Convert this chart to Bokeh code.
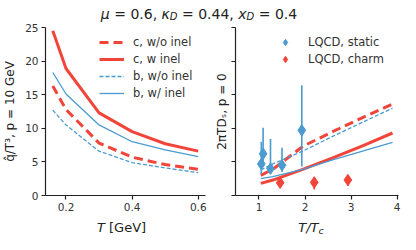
import numpy as np
from bokeh.plotting import figure
from bokeh.layouts import column, row
from bokeh.models import Range1d, FixedTicker, Legend, LegendItem, Label, CustomJSTickFormatter
from bokeh.embed import file_html
from bokeh.resources import INLINE

RED = "#f2453a"
BLUE = "#4a9bd1"
FONT = "DejaVu Sans"
INK = "#222222"
TXT = "#333333"

# ---------------- data ----------------
T = [0.16, 0.2, 0.3, 0.4, 0.5, 0.6]
qhat_c_wo = [16.3, 12.8, 7.8, 5.7, 4.6, 3.9]
qhat_c_w = [24.5, 18.9, 12.3, 9.5, 7.7, 6.6]
qhat_b_wo = [12.7, 10.5, 6.6, 4.9, 4.1, 3.4]
qhat_b_w = [18.3, 15.1, 10.5, 8.0, 6.8, 5.8]

TTc = [1.04, 1.30, 1.95, 2.60, 3.25, 3.90]
Ds_c_wo = [3.0, 3.9, 7.3, 9.5, 11.6, 13.6]
Ds_c_w = [1.8, 2.3, 3.9, 5.6, 7.4, 9.3]
Ds_b_wo = [3.8, 4.7, 6.6, 8.8, 10.9, 13.0]
Ds_b_w = [2.5, 2.8, 3.9, 5.3, 6.6, 7.9]

static_x = [1.05, 1.09, 1.25, 1.5, 1.93]
static_y = [4.7, 6.2, 4.0, 4.5, 9.7]
static_lo = [3.2, 4.6, 3.2, 3.5, 4.3]
static_hi = [8.0, 10.1, 8.4, 7.1, 16.4]

charm_x = [1.46, 2.2, 2.93]
charm_y = [1.9, 1.95, 2.3]
charm_lo = [1.4, 0.9, 1.4]
charm_hi = [2.4, 2.6, 2.9]

left_xticks = [0.2, 0.4, 0.6]
right_xticks = [1, 2, 3, 4]
yticks = [0, 5, 10, 15, 20, 25]

labels_left = ["c, w/o inel", "c, w inel", "b, w/o inel", "b, w/ inel"]
labels_right = ["LQCD, static", "LQCD, charm"]

# ---------------- helpers ----------------
EM = {' ': 0.318, '=': 0.838, '.': 0.318, ',': 0.318, 'μ': 0.636, 'κ': 0.592,
      'x': 0.592, 'D': 0.770, 'T': 0.611, '/': 0.337, 'c': 0.550, '[': 0.390,
      ']': 0.390, 'G': 0.775, 'e': 0.615, 'V': 0.684}
for d in "0123456789":
    EM[d] = 0.636


def width(s, size):
    return sum(EM.get(ch, 0.6) for ch in s) * size


def place_runs(p, runs, cx, base):
    total = sum(width(t, s) for t, s, st, dy in runs)
    x = cx - total / 2
    for t, s, st, dy in runs:
        lead = len(t) - len(t.lstrip(" "))
        xs = x + width(" " * lead, s)
        p.add_layout(Label(x=xs, y=base + dy, text=t.strip(" "),
                           text_font=FONT, text_font_size=f"{s}px", text_font_style=st,
                           text_color=INK, text_align="left", text_baseline="alphabetic"))
        x += width(t, s)


def strip(w, h):
    s = figure(width=w, height=h, x_range=Range1d(0, w), y_range=Range1d(0, h),
               x_axis_type=None, y_axis_type=None, min_border=0,
               output_backend="svg", toolbar_location=None)
    s.outline_line_color = None
    s.grid.visible = False
    return s


def style(p):
    p.outline_line_color = None
    p.grid.visible = False
    for ax in p.axis:
        ax.axis_line_color = INK
        ax.axis_line_width = 1.2
        ax.major_tick_line_color = INK
        ax.major_tick_line_width = 1.2
        ax.major_tick_out = 4
        ax.major_tick_in = 0
        ax.minor_tick_line_color = None
        ax.major_label_text_font = FONT
        ax.major_label_text_font_size = "10.5px"
        ax.major_label_text_color = TXT
        ax.major_label_standoff = 3
        ax.axis_label_text_font = FONT
        ax.axis_label_text_font_size = "12px"
        ax.axis_label_text_font_style = "normal"
        ax.axis_label_text_color = INK


FW_L, FW_R, FH = 160, 163, 168
BL_L, BR_L, BL_R, BR_R = 41, 6, 22, 8
BT, BB = 5, 19
TH_TOP, TH_BOT = 22, 20

# ---------------- left panel ----------------
left = figure(frame_width=FW_L, frame_height=FH, x_range=Range1d(0.138, 0.622),
              y_range=Range1d(0, 25), output_backend="svg", toolbar_location=None,
              min_border_left=BL_L, min_border_right=BR_L, min_border_top=BT,
              min_border_bottom=BB)
style(left)
left.xaxis.ticker = FixedTicker(ticks=left_xticks)
left.yaxis.ticker = FixedTicker(ticks=yticks)
left.yaxis.axis_label = "q\u0302/T\u00b3, p = 10 GeV"
left.yaxis.axis_label_standoff = 5

r1 = left.line(T, qhat_c_wo, line_color=RED, line_width=3, line_dash="9 5")
r2 = left.line(T, qhat_c_w, line_color=RED, line_width=3)
r3 = left.line(T, qhat_b_wo, line_color=BLUE, line_width=1.3, line_dash="4 2")
r4 = left.line(T, qhat_b_w, line_color=BLUE, line_width=1.3)

leg_l = Legend(items=[LegendItem(label=l, renderers=[r]) for l, r in
                      zip(labels_left, [r1, r2, r3, r4])],
               location=(54, 94), glyph_width=25, glyph_height=16, spacing=1,
               padding=0, margin=0, label_standoff=9, border_line_alpha=0,
               background_fill_alpha=0, label_text_font=FONT,
               label_text_font_size="11.5px", label_text_color=TXT)
left.add_layout(leg_l)

# ---------------- right panel ----------------
right = figure(frame_width=FW_R, frame_height=FH, x_range=Range1d(0.49, 4.03),
               y_range=Range1d(0, 25), output_backend="svg", toolbar_location=None,
               min_border_left=BL_R, min_border_right=BR_R, min_border_top=BT,
               min_border_bottom=BB)
style(right)
right.xaxis.ticker = FixedTicker(ticks=right_xticks)
right.yaxis.ticker = FixedTicker(ticks=yticks)
right.yaxis.formatter = CustomJSTickFormatter(code="return ''")
right.yaxis.major_label_standoff = 0
right.yaxis.axis_label = "2\u03c0TD\u209b, p = 0"
right.yaxis.axis_label_standoff = 3

right.line(TTc, Ds_c_wo, line_color=RED, line_width=3, line_dash="9 5")
right.line(TTc, Ds_c_w, line_color=RED, line_width=3)
right.line(TTc, Ds_b_wo, line_color=BLUE, line_width=1.3, line_dash="4 2")
right.line(TTc, Ds_b_w, line_color=BLUE, line_width=1.3)

right.segment(x0=static_x, y0=static_lo, x1=static_x, y1=static_hi,
              line_color=BLUE, line_width=1.6)
sm = right.scatter(static_x, static_y, marker="diamond", size=11.5,
                   fill_color=BLUE, line_color=BLUE)
right.segment(x0=charm_x, y0=charm_lo, x1=charm_x, y1=charm_hi,
              line_color=RED, line_width=1.6)
cm = right.scatter(charm_x, charm_y, marker="diamond", size=11.5,
                   fill_color=RED, line_color=RED)

leg_r = Legend(items=[LegendItem(label=labels_right[0], renderers=[sm]),
                      LegendItem(label=labels_right[1], renderers=[cm])],
               location=(40, 128), glyph_width=20, glyph_height=16, spacing=1,
               padding=0, margin=0, label_standoff=13, border_line_alpha=0,
               background_fill_alpha=0, label_text_font=FONT,
               label_text_font_size="11.5px", label_text_color=TXT)
right.add_layout(leg_r)

W = BL_L + FW_L + BR_L + BL_R + FW_R + BR_R

# ---------------- title strip ----------------
title = strip(W, TH_TOP)
place_runs(title, [("μ", 14, "italic", 0), (" = 0.6, ", 14, "normal", 0),
                   ("κ", 14, "italic", 0), ("D", 10, "italic", -2.5),
                   (" = 0.44, ", 14, "normal", 0), ("x", 14, "italic", 0),
                   ("D", 10, "italic", -2.5), (" = 0.4", 14, "normal", 0)],
           198.5, 8.5)

# ---------------- x-label strip ----------------
xlab = strip(W, TH_BOT)
cx_left = BL_L + FW_L / 2
cx_right = BL_L + FW_L + BR_L + BL_R + FW_R / 2
place_runs(xlab, [("T", 13, "italic", 0), (" [GeV]", 13, "normal", 0)], cx_left, 7.5)
place_runs(xlab, [("T/T", 13, "italic", 0), ("c", 9.5, "italic", -3)], cx_right, 7.5)

layout = column(title, row(left, right, spacing=0), xlab, spacing=0)

open("out.html", "w").write(file_html(layout, INLINE))
